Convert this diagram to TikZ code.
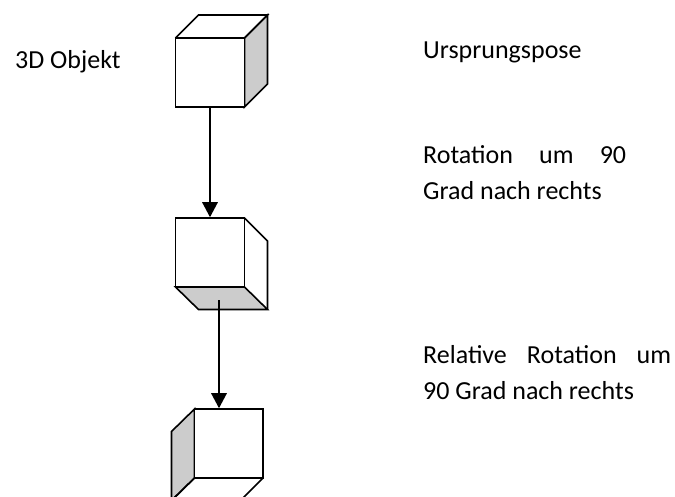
\documentclass[tikz,border=0pt]{standalone}
\usepackage{fontspec}
\setmainfont{Carlito}
\usetikzlibrary{arrows.meta}
\definecolor{shade}{HTML}{CCCCCC}
\tikzset{
  edge/.style={draw=black,line width=1.6pt,line join=miter},
  face/.style={edge,fill=shade},
  conn/.style={draw=black,line width=1.5pt,-{Triangle[length=15pt,width=15.5pt]}},
  lab/.style={inner sep=0pt,anchor=base west,align=left,font=\fontsize{26}{36}\selectfont}
}
\begin{document}
\begin{tikzpicture}[x=1pt,y=-1pt]
\useasboundingbox (0,0) rectangle (675,496);
\clip (0,0) rectangle (675,496);
% cube 1
\draw[face] (244.5,38) -- (267.5,15) -- (267.5,84) -- (244.5,107) -- cycle;
\draw[edge] (175.5,38) -- (198.5,15) -- (267.5,15) -- (244.5,38);
\node[draw=black,line width=1.6pt,fill=white,minimum width=69pt,minimum height=69pt,inner sep=0pt] (c1) at (210,72.5) {};
% cube 2
\draw[face] (175.5,287) -- (244.5,287) -- (267.5,309.5) -- (198.5,309.5) -- cycle;
\draw[edge] (244.5,218) -- (267.5,241) -- (267.5,309.5);
\node[draw=black,line width=1.6pt,fill=white,minimum width=69pt,minimum height=69pt,inner sep=0pt] (c2) at (210,252.5) {};
% cube 3
\draw[face] (194.5,409) -- (171.5,431.5) -- (171.5,500.5) -- (194.5,478) -- cycle;
\draw[edge] (194.5,478) -- (171.5,500.5);
\draw[edge] (263,478) -- (240.5,500.5);
\node[draw=black,line width=1.6pt,fill=white,minimum width=68.5pt,minimum height=69pt,inner sep=0pt] (c3) at (228.7,443.5) {};
% connectors
\coordinate (s2) at (219,300);
\draw[conn] (c1.south) -- (c2.north);
\draw[conn] (s2) -- (s2 |- c3.north);
% labels
\node[lab] (t0) at (15,68.5) {3D Objekt};
\node[lab] (t1) at (423,58.5) {Ursprungspose};
\node[lab] (t2) at (423,199.5) {\hbox to 203pt{Rotation\hfill um\hfill 90}\\Grad nach rechts};
\node[lab] (t3) at (423,399) {\hbox to 248pt{Relative\hfill Rotation\hfill um}\\90 Grad nach rechts};
\end{tikzpicture}
\end{document}
